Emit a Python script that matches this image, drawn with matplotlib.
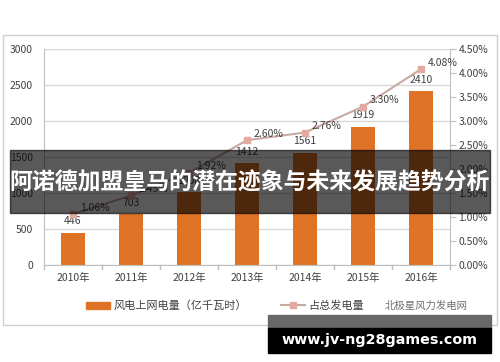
import matplotlib.pyplot as plt
from matplotlib.patches import Rectangle
from matplotlib.lines import Line2D

plt.rcParams['font.family'] = ['Noto Sans CJK SC', 'DejaVu Sans']

years = ['2010年', '2011年', '2012年', '2013年', '2014年', '2015年', '2016年']
power = [446, 703, 1008, 1412, 1561, 1919, 2410]
share = [1.06, 1.45, 1.92, 2.60, 2.76, 3.30, 4.08]
left_ticks = [0, 500, 1000, 1500, 2000, 2500, 3000]
right_ticks = [0, 0.5, 1.0, 1.5, 2.0, 2.5, 3.0, 3.5, 4.0, 4.5]

bar_c = '#de7326'
line_c = '#c9aaa2'
mark_c = '#e4aaa0'
txt_c = '#404040'
grid_c = '#d9d9d9'

W, H = 500, 362
fig = plt.figure(figsize=(5, 3.62), dpi=100)

# outer frame of the chart
fig.patches.append(Rectangle((3 / W, 1 - 325 / H), 494 / W, 290 / H,
                             transform=fig.transFigure, fill=False,
                             edgecolor='#d0d0d0', lw=1))

ax = fig.add_axes([44 / W, 1 - 265 / H, 406 / W, 216 / H])
x = list(range(len(years)))
ax.bar(x, power, width=0.42, color=bar_c, zorder=2)
ax.set_xlim(-0.5, 6.5)
ax.set_ylim(0, 3000)
ax.set_yticks(left_ticks)
ax.set_xticks(x)
ax.set_xticklabels(years)
ax.yaxis.grid(True, color=grid_c, lw=1)
ax.set_axisbelow(True)
for s in ['top', 'right']:
    ax.spines[s].set_visible(False)
ax.spines['left'].set_color('#bfbfbf')
ax.spines['bottom'].set_color('#bfbfbf')
ax.tick_params(axis='y', length=0, labelsize=7.5, colors=txt_c, pad=8)
ax.tick_params(axis='x', length=0, labelsize=7.5, colors=txt_c, pad=6)
# category separator ticks
for b in [i + 0.5 for i in range(-1, 7)]:
    ax.plot([b, b], [0, -60], color='#bfbfbf', lw=1, clip_on=False)
for i, v in enumerate(power):
    ax.text(i, v + 90, str(v), ha='center', va='bottom', fontsize=7.5, color=txt_c)

ax2 = ax.twinx()
ax2.plot(x, share, color=line_c, lw=1.5, marker='s', ms=4,
         mfc=mark_c, mec=mark_c, zorder=3)
ax2.set_ylim(0, 4.5)
ax2.set_yticks(right_ticks)
ax2.set_yticklabels(['%.2f%%' % t for t in right_ticks])
for s in ['top', 'left', 'bottom']:
    ax2.spines[s].set_visible(False)
ax2.spines['right'].set_color('#bfbfbf')
ax2.tick_params(axis='y', length=4, color='#bfbfbf', labelsize=7.5,
                colors=txt_c, pad=2)
for i, v in enumerate(share):
    ax2.text(i + 0.12, v + 0.03, '%.2f%%' % v, ha='left', va='bottom',
             fontsize=7.5, color=txt_c)

handles = [Rectangle((0, 0), 1, 1, color=bar_c),
           Line2D([0], [0], color=line_c, lw=1.5, marker='s', ms=4,
                  mfc=mark_c, mec=mark_c)]
fig.legend(handles, ['风电上网电量（亿千瓦时）', '占总发电量'],
           loc='center left', bbox_to_anchor=(76 / W, 1 - 306 / H), ncol=2,
           frameon=False, fontsize=8, labelcolor=txt_c,
           columnspacing=3.0, handlelength=2.2, handletextpad=0.3)
fig.text(385 / W, 1 - 306 / H, '北极星风力发电网', fontsize=7.5,
         color='#707070', va='center', ha='left')

# title banner
fig.patches.append(Rectangle((10 / W, 1 - 213 / H), 480 / W, 63 / H,
                             transform=fig.transFigure, color='black',
                             alpha=0.65, zorder=10))
fig.text(0.5, 1 - 183 / H, '阿诺德加盟皇马的潜在迹象与未来发展趋势分析',
         ha='center', va='center', color='white', fontsize=16.5,
         fontweight='bold', zorder=11)

# site banner
fig.patches.append(Rectangle((268 / W, 1 - 328 / H), 223 / W, 13 / H,
                             transform=fig.transFigure, color='#686868',
                             zorder=10))
fig.patches.append(Rectangle((268 / W, 1 - 353 / H), 223 / W, 25 / H,
                             transform=fig.transFigure, color='black',
                             zorder=10))
fig.text(379 / W, 1 - 340 / H, 'www.jv-ng28games.com', ha='center',
         va='center', color='white', fontsize=10.3, fontweight='bold',
         family='DejaVu Sans', zorder=11)

fig.savefig('out.png', dpi=100)
